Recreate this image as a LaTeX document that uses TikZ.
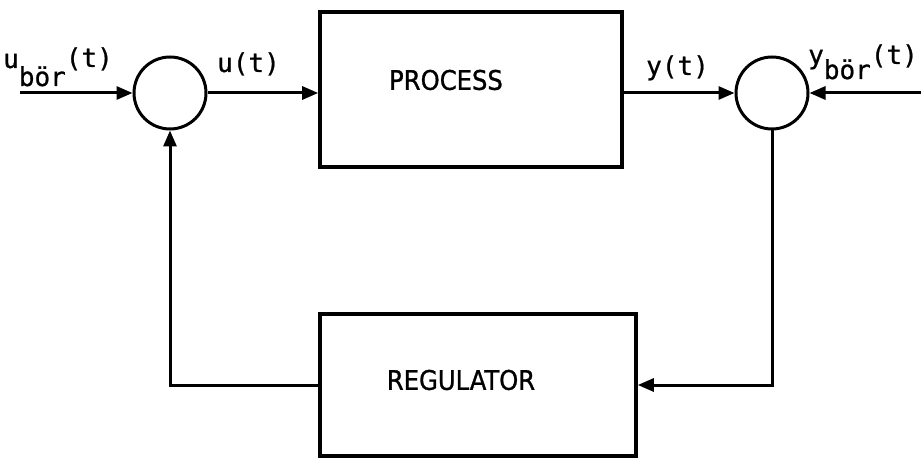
\documentclass[tikz,border=0pt]{standalone}
\usepackage{fontspec}
\newfontfamily\monof[FakeBold=0.8]{DejaVu Sans Mono}
\newfontfamily\condf[FakeBold=1]{DejaVu Sans Condensed}
\usetikzlibrary{arrows.meta}
\begin{document}
\begin{tikzpicture}[x=1pt,y=-1pt,
  >={Triangle[length=16pt,width=13pt]},
  conn/.style={draw, line width=3pt, ->},
  blk/.style={draw, line width=3.6pt, inner sep=0pt},
  sumn/.style={draw, circle, line width=3pt, minimum size=72pt, inner sep=0pt},
  boxtxt/.style={font=\condf\fontsize{27}{30}\selectfont, inner sep=0pt},
  sig/.style={font=\monof\fontsize{26}{28}\selectfont, inner sep=0pt},
  sigs/.style={font=\monof\fontsize{26}{28}\selectfont, inner sep=0pt}]
\useasboundingbox (0,0) rectangle (921,465);
% blocks
\node[blk, minimum width=302pt, minimum height=155pt] (proc) at (471,89.5) {};
\node[blk, minimum width=316pt, minimum height=142pt] (reg) at (478,385) {};
\node[boxtxt] (proct) at (446,80) {PROCESS};
\node[boxtxt] (regt) at (461,380) {REGULATOR};
% summation points
\node[sumn] (s1) at (170,93) {};
\node[sumn] (s2) at (772,93) {};
% free ends
\coordinate (in1) at (20,93);
\coordinate (in2) at (921,93);
% connectors
\draw[conn] (in1) -- (s1.west);
\draw[conn] (s1.east) -- (s1.east -| proc.west);
\draw[conn] (s2.west -| proc.east) -- (s2.west);
\draw[conn] (in2) -- (s2.east);
\draw[conn] (s2.south) |- (reg.east);
\draw[conn] (reg.west) -| (s1.south);
% labels
\node[sigs, anchor=base west] (ubor) at (3,68) {u\raisebox{-18pt}{bör}\raisebox{1pt}{(t)}};
\node[sig, anchor=base west] (ut) at (217,72) {u(t)};
\node[sig, anchor=base west] (yt) at (646,75) {y(t)};
\node[sigs, anchor=base west] (ybor) at (808,64) {y\raisebox{-15pt}{bör}(t)};
\end{tikzpicture}
\end{document}
